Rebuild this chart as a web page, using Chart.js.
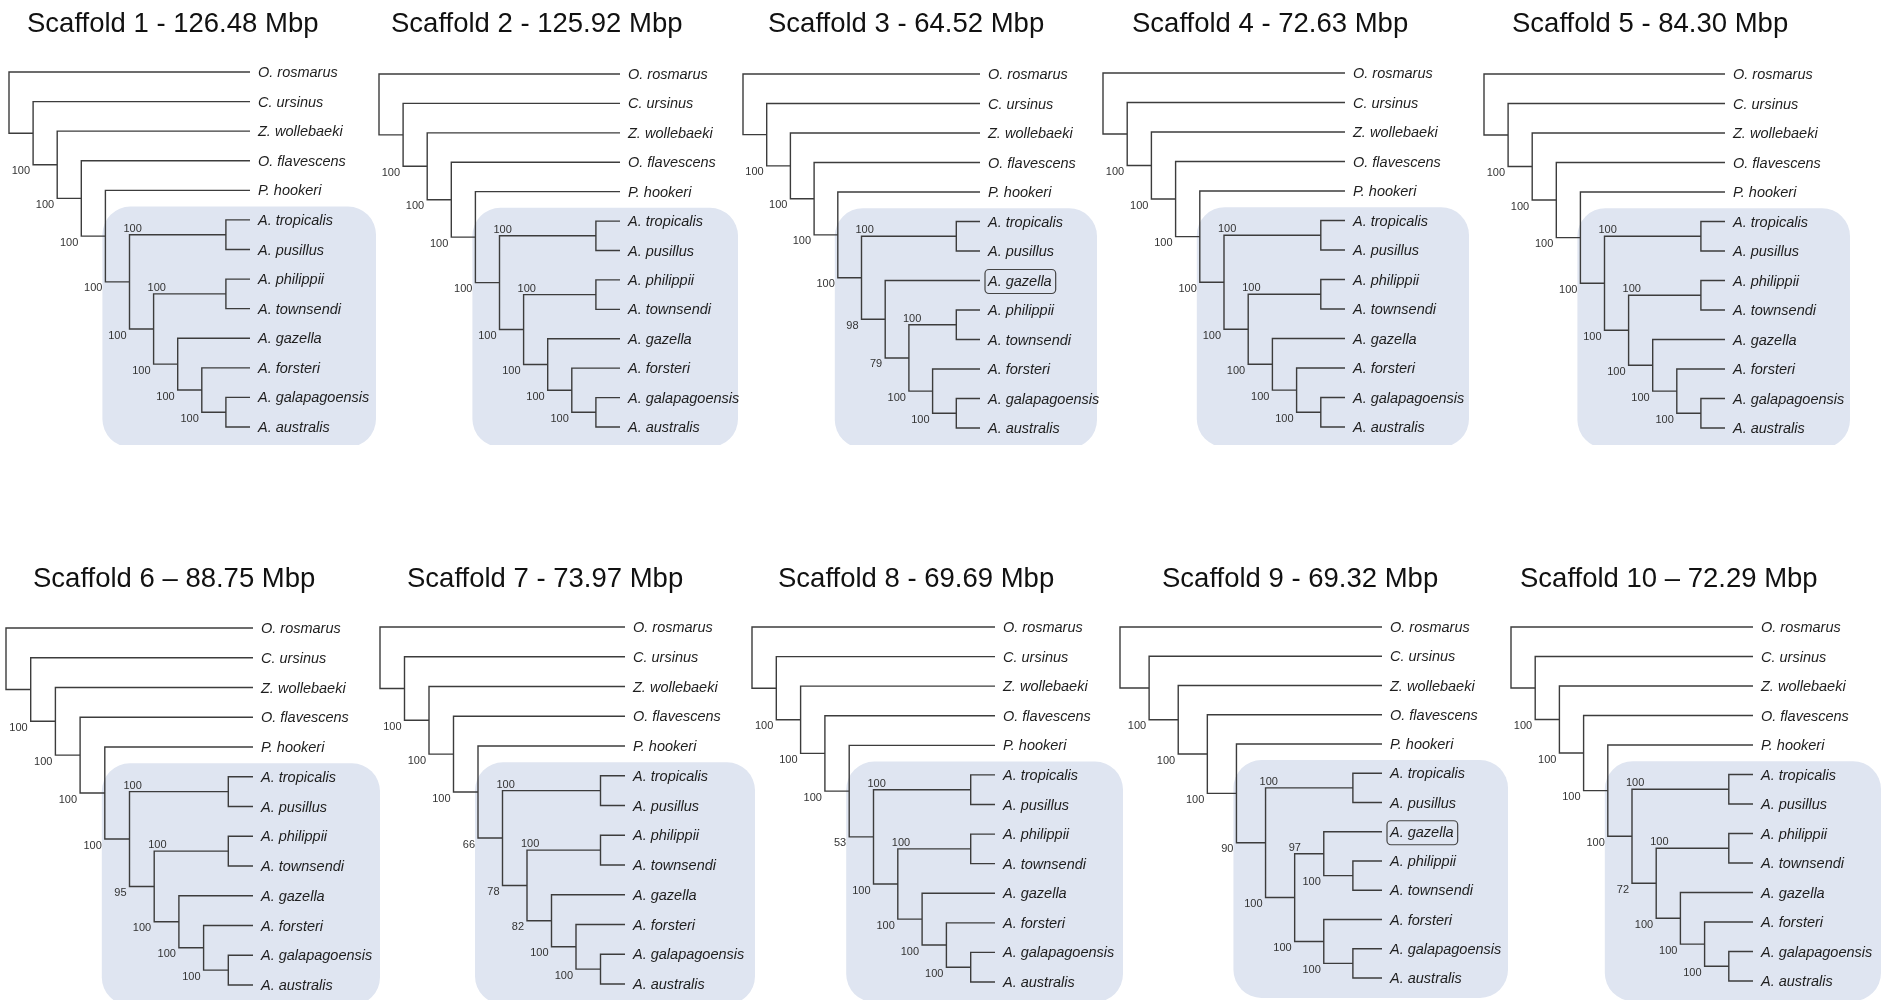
<!DOCTYPE html>
<html>
<head>
<meta charset="utf-8">
<title>Scaffold trees</title>
<script src="https://cdn.jsdelivr.net/npm/chart.js@4.4.1/dist/chart.umd.min.js"></script>
<style>
  html, body { margin: 0; padding: 0; background: #fff; }
  #figure { position: relative; width: 1885px; height: 1000px; overflow: hidden; }
  #figure canvas { position: absolute; }
</style>
</head>
<body>
<div id="figure"></div>
<script>
// ---- data ----
const scaffoldTitles = [
  "Scaffold 1 - 126.48 Mbp", "Scaffold 2 - 125.92 Mbp", "Scaffold 3 - 64.52 Mbp",
  "Scaffold 4 - 72.63 Mbp", "Scaffold 5 - 84.30 Mbp", "Scaffold 6 \u2013 88.75 Mbp",
  "Scaffold 7 - 73.97 Mbp", "Scaffold 8 - 69.69 Mbp", "Scaffold 9 - 69.32 Mbp",
  "Scaffold 10 \u2013 72.29 Mbp"
]

const outgroups = ["O. rosmarus", "C. ursinus", "Z. wollebaeki", "O. flavescens", "P. hookeri"]
// support for the (Z..), (O. flavescens..) and (P. hookeri..) clades
const outgroupSupport = [100, 100, 100]

// Arctocephalus subtree of each scaffold (newick, support after each clade)
const arctoClades = [
  "((A. tropicalis,A. pusillus)100,((A. philippii,A. townsendi)100,(A. gazella,(A. forsteri,(A. galapagoensis,A. australis)100)100)100)100)",
  "((A. tropicalis,A. pusillus)100,((A. philippii,A. townsendi)100,(A. gazella,(A. forsteri,(A. galapagoensis,A. australis)100)100)100)100)",
  "((A. tropicalis,A. pusillus)100,(A. gazella,((A. philippii,A. townsendi)100,(A. forsteri,(A. galapagoensis,A. australis)100)100)79)98)",
  "((A. tropicalis,A. pusillus)100,((A. philippii,A. townsendi)100,(A. gazella,(A. forsteri,(A. galapagoensis,A. australis)100)100)100)100)",
  "((A. tropicalis,A. pusillus)100,((A. philippii,A. townsendi)100,(A. gazella,(A. forsteri,(A. galapagoensis,A. australis)100)100)100)100)",
  "((A. tropicalis,A. pusillus)100,((A. philippii,A. townsendi)100,(A. gazella,(A. forsteri,(A. galapagoensis,A. australis)100)100)100)95)",
  "((A. tropicalis,A. pusillus)100,((A. philippii,A. townsendi)100,(A. gazella,(A. forsteri,(A. galapagoensis,A. australis)100)100)82)78)",
  "((A. tropicalis,A. pusillus)100,((A. philippii,A. townsendi)100,(A. gazella,(A. forsteri,(A. galapagoensis,A. australis)100)100)100)100)",
  "((A. tropicalis,A. pusillus)100,((A. gazella,(A. philippii,A. townsendi)100)97,(A. forsteri,(A. galapagoensis,A. australis)100)100)100)",
  "((A. tropicalis,A. pusillus)100,((A. philippii,A. townsendi)100,(A. gazella,(A. forsteri,(A. galapagoensis,A. australis)100)100)100)72)"
]
const arctoSupport = [100, 100, 100, 100, 100, 100, 66, 53, 90, 100]
const boxedTaxa = [[], [], ["A. gazella"], [], [], [], [], [], ["A. gazella"], []]
const highlightGenus = "A."

// ---- placement of each panel on the page (px) ----
const panels = [
  { root: 9, tip: 250, top: 72, bottom: 427, titleX: 27, boxRight: 376 },
  { root: 379, tip: 620, top: 74, bottom: 427, titleX: 391, boxRight: 738 },
  { root: 743, tip: 980, top: 74, bottom: 428, titleX: 768, boxRight: 1097 },
  { root: 1103, tip: 1345, top: 73, bottom: 427, titleX: 1132, boxRight: 1469 },
  { root: 1484, tip: 1725, top: 74, bottom: 428, titleX: 1512, boxRight: 1850 },
  { root: 6, tip: 253, top: 628, bottom: 985, titleX: 33, boxRight: 380 },
  { root: 380, tip: 625, top: 627, bottom: 984, titleX: 407, boxRight: 755 },
  { root: 752, tip: 995, top: 627, bottom: 982, titleX: 778, boxRight: 1123 },
  { root: 1120, tip: 1382, top: 627, bottom: 978, titleX: 1162, boxRight: 1508 },
  { root: 1511, tip: 1753, top: 627, bottom: 981, titleX: 1520, boxRight: 1881 }
]
const FONT = "'Liberation Sans', Arial, Helvetica, sans-serif"

function buildNewick(k) {
  return "(" + outgroups[0] + ",(" + outgroups[1] + ",(" + outgroups[2] + ",(" + outgroups[3] +
    ",(" + outgroups[4] + "," + arctoClades[k] + arctoSupport[k] + ")" + outgroupSupport[2] +
    ")" + outgroupSupport[1] + ")" + outgroupSupport[0] + "));"
}

function parseNewick(s) {
  let i = 0
  function node() {
    const n = { children: [], name: "", support: null }
    if (s[i] === "(") {
      i++
      n.children.push(node())
      while (s[i] === ",") { i++; n.children.push(node()) }
      i++ // ')'
    }
    let tok = ""
    while (i < s.length && !",();".includes(s[i])) tok += s[i++]
    tok = tok.trim()
    if (n.children.length) n.support = tok ? Number(tok) : null
    else n.name = tok
    return n
  }
  return node()
}

// cladogram layout: tips at max depth, y = midpoint of children
function layoutTree(root) {
  const tips = [], nodes = []
  ;(function walk(n, parent, idx) {
    n.parent = parent
    n.childIndex = idx
    if (!n.children.length) {
      n.y = tips.length
      n.h = 0
      tips.push(n)
    } else {
      n.children.forEach((c, j) => walk(c, n, j))
      n.h = 1 + Math.max(...n.children.map((c) => c.h))
      n.y = (n.children[0].y + n.children[n.children.length - 1].y) / 2
    }
    nodes.push(n)
  })(root, null, 0)
  const H = root.h
  nodes.forEach((n) => (n.x = H - n.h))
  return { root, tips, nodes, H }
}

function tipsOf(n) {
  return n.children.length ? n.children.flatMap(tipsOf) : [n]
}

function roundRect(ctx, x, y, w, h, r) {
  ctx.beginPath()
  ctx.moveTo(x + r, y)
  ctx.lineTo(x + w - r, y)
  ctx.arcTo(x + w, y, x + w, y + r, r)
  ctx.lineTo(x + w, y + h - r)
  ctx.arcTo(x + w, y + h, x + w - r, y + h, r)
  ctx.lineTo(x + r, y + h)
  ctx.arcTo(x, y + h, x, y + h - r, r)
  ctx.lineTo(x, y + r)
  ctx.arcTo(x, y, x + r, y, r)
  ctx.closePath()
}

const treeDecor = {
  id: "treeDecor",
  beforeDatasetsDraw(chart, args, opts) {
    const { ctx, scales } = chart
    const tree = opts.tree
    // shaded box around the highlighted genus
    const clade = tree.nodes.find((n) => {
      const t = tipsOf(n)
      return n.children.length && t.every((x) => x.name.startsWith(highlightGenus)) &&
        t.length === tree.tips.filter((x) => x.name.startsWith(highlightGenus)).length
    })
    if (!clade) return
    const ct = tipsOf(clade)
    const x0 = scales.x.getPixelForValue(clade.parent.x) - 3
    const y0 = scales.y.getPixelForValue(ct[0].y - 0.45)
    const y1 = scales.y.getPixelForValue(ct[ct.length - 1].y + 0.68)
    ctx.save()
    ctx.fillStyle = "#dfe5f1"
    roundRect(ctx, x0, y0, opts.boxRight - x0, y1 - y0, 28)
    ctx.fill()
    ctx.restore()
  },
  afterDatasetsDraw(chart, args, opts) {
    const { ctx, scales } = chart
    const tree = opts.tree
    const xs = scales.x, ys = scales.y
    ctx.save()
    // title
    ctx.fillStyle = "#111"
    ctx.font = "27.5px " + FONT
    ctx.textAlign = "left"
    ctx.textBaseline = "alphabetic"
    ctx.fillText(opts.title, opts.titleX, 32)
    // tip labels
    ctx.font = "italic 14.5px " + FONT
    ctx.textBaseline = "middle"
    tree.tips.forEach((t) => {
      const x = xs.getPixelForValue(t.x) + 8
      const y = ys.getPixelForValue(t.y) + 1
      ctx.fillStyle = "#1e1e1e"
      ctx.fillText(t.name, x, y)
      if (opts.boxed.includes(t.name)) {
        const w = ctx.measureText(t.name).width
        ctx.strokeStyle = "#444"
        ctx.lineWidth = 1.2
        roundRect(ctx, x - 3, y - 12, w + 7, 24, 4)
        ctx.stroke()
      }
    })
    // bootstrap support
    ctx.font = "11px " + FONT
    ctx.fillStyle = "#333"
    tree.nodes.forEach((n) => {
      if (n.support == null || !n.parent) return
      const px = xs.getPixelForValue(n.parent.x)
      const y = ys.getPixelForValue(n.y)
      if (n.childIndex === 0) {
        ctx.textAlign = "left"
        ctx.textBaseline = "alphabetic"
        ctx.fillText(String(n.support), px - 6, y - 3)
      } else {
        ctx.textAlign = "right"
        ctx.textBaseline = "top"
        ctx.fillText(String(n.support), px - 3, y + 1)
      }
    })
    ctx.restore()
  }
}

const figure = document.getElementById("figure")

panels.forEach((p, k) => {
  const tree = layoutTree(parseNewick(buildNewick(k)))
  const rowTop = k < 5 ? 0 : 555
  const left = p.root - 12
  const right = p.boxRight + 4
  const height = 445

  // one bracket per internal node, separated by gaps
  const branches = []
  tree.nodes.filter((n) => n.children.length).forEach((n) => {
    const a = n.children[0], b = n.children[n.children.length - 1]
    branches.push({ x: a.x, y: a.y }, { x: n.x, y: a.y }, { x: n.x, y: b.y }, { x: b.x, y: b.y }, { x: null, y: null })
  })

  const canvas = document.createElement("canvas")
  canvas.width = right - left
  canvas.height = height
  canvas.style.left = left + "px"
  canvas.style.top = rowTop + "px"
  figure.appendChild(canvas)

  new Chart(canvas.getContext("2d"), {
    type: "scatter",
    data: {
      datasets: [
        {
          data: branches,
          showLine: true,
          spanGaps: false,
          borderColor: "#3c3c3c",
          borderWidth: 1.4,
          borderJoinStyle: "miter",
          pointRadius: 0,
          clip: false,
        },
      ],
    },
    options: {
      responsive: false,
      animation: false,
      devicePixelRatio: 1,
      events: [],
      layout: {
        padding: { left: p.root - left, right: right - p.tip, top: p.top - rowTop, bottom: rowTop + height - p.bottom },
      },
      scales: {
        x: { type: "linear", min: 0, max: tree.H, display: false },
        y: { type: "linear", min: 0, max: tree.tips.length - 1, reverse: true, display: false },
      },
      plugins: {
        legend: { display: false },
        tooltip: { enabled: false },
        treeDecor: {
          tree: tree,
          title: scaffoldTitles[k],
          titleX: p.titleX - left,
          boxRight: p.boxRight - left,
          boxed: boxedTaxa[k],
        },
      },
    },
    plugins: [treeDecor],
  })
})
</script>
</body>
</html>
